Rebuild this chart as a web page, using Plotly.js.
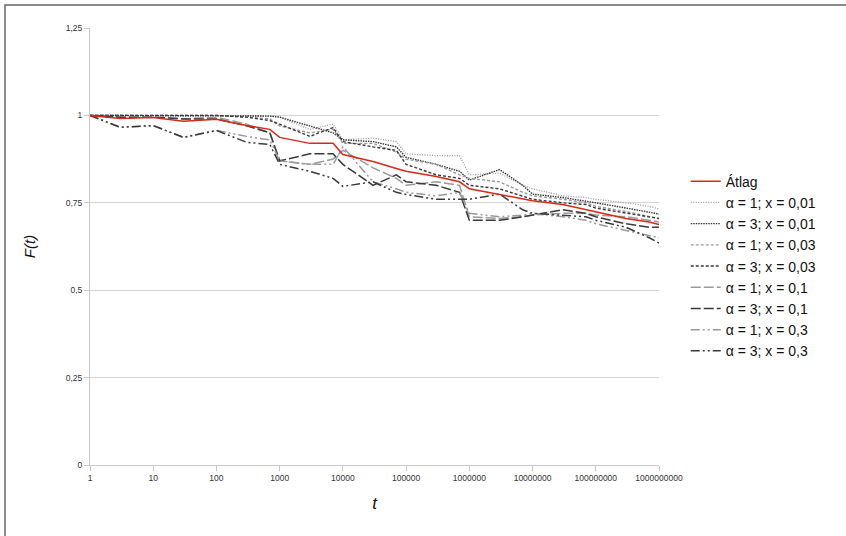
<!DOCTYPE html>
<html>
<head>
<meta charset="utf-8">
<script src="https://cdn.plot.ly/plotly-3.0.1.min.js"></script>
<style>html,body{margin:0;padding:0;background:#fff;}#chart{width:846px;height:536px;}</style>
</head>
<body>
<div id="chart"></div>
<script>
const t = [1, 3, 10, 30, 100, 300, 700, 1e3, 3e3, 7e3, 1e4, 3e4, 7e4, 1e5, 3e5, 7e5, 1e6, 3e6, 7e6, 1e7, 3e7, 7e7, 1e8, 3e8, 7e8, 1e9];

const atlag = [1.0, 0.991, 0.994, 0.983, 0.989, 0.971, 0.96, 0.937, 0.92, 0.92, 0.888, 0.868, 0.848, 0.84, 0.825, 0.81, 0.79, 0.774, 0.762, 0.756, 0.745, 0.73, 0.725, 0.705, 0.695, 0.688];
const a1x001 = [1, 1, 1, 1, 1, 1, 0.998, 0.995, 0.96, 0.975, 0.93, 0.935, 0.925, 0.89, 0.885, 0.885, 0.83, 0.835, 0.8, 0.79, 0.77, 0.765, 0.76, 0.75, 0.74, 0.732];
const a3x001 = [1, 1, 1, 1, 1, 1, 0.998, 0.995, 0.97, 0.95, 0.93, 0.925, 0.91, 0.88, 0.86, 0.84, 0.815, 0.845, 0.8, 0.775, 0.765, 0.755, 0.75, 0.735, 0.722, 0.718];
const a1x003 = [1, 1, 1, 1, 1, 0.995, 0.99, 0.97, 0.95, 0.96, 0.92, 0.92, 0.895, 0.875, 0.86, 0.83, 0.82, 0.81, 0.78, 0.77, 0.76, 0.75, 0.74, 0.725, 0.712, 0.705];
const a3x003 = [1, 1, 1, 1, 1, 0.995, 0.985, 0.975, 0.94, 0.965, 0.925, 0.91, 0.9, 0.86, 0.83, 0.82, 0.8, 0.79, 0.77, 0.76, 0.75, 0.745, 0.735, 0.72, 0.71, 0.705];
const a1x01 = [1, 0.995, 0.995, 0.99, 0.995, 0.975, 0.95, 0.87, 0.86, 0.875, 0.9, 0.85, 0.82, 0.8, 0.81, 0.8, 0.71, 0.705, 0.71, 0.715, 0.72, 0.72, 0.715, 0.71, 0.7, 0.695];
const a3x01 = [1, 0.995, 0.995, 0.99, 0.99, 0.97, 0.95, 0.87, 0.89, 0.89, 0.86, 0.8, 0.83, 0.81, 0.8, 0.78, 0.70, 0.70, 0.71, 0.715, 0.73, 0.72, 0.71, 0.69, 0.68, 0.68];
const a1x03 = [1, 0.966, 0.971, 0.937, 0.957, 0.94, 0.93, 0.87, 0.86, 0.86, 0.91, 0.81, 0.79, 0.78, 0.77, 0.78, 0.72, 0.71, 0.715, 0.72, 0.71, 0.7, 0.69, 0.67, 0.655, 0.65];
const a3x03 = [1, 0.966, 0.971, 0.937, 0.957, 0.923, 0.917, 0.86, 0.84, 0.82, 0.797, 0.81, 0.78, 0.774, 0.76, 0.76, 0.76, 0.775, 0.73, 0.72, 0.715, 0.71, 0.70, 0.68, 0.65, 0.635];

const seriesNames = ["Átlag", "α = 1; x = 0,01", "α = 3; x = 0,01", "α = 1; x = 0,03", "α = 3; x = 0,03", "α = 1; x = 0,1", "α = 3; x = 0,1", "α = 1; x = 0,3", "α = 3; x = 0,3"];
const seriesData = [atlag, a1x001, a3x001, a1x003, a3x003, a1x01, a3x01, a1x03, a3x03];

const xTickVals = [1, 10, 100, 1000, 10000, 100000, 1000000, 10000000, 100000000, 1000000000];
const xTickText = ["1", "10", "100", "1000", "10000", "100000", "1000000", "10000000", "100000000", "1000000000"];
const yTickVals = [0, 0.25, 0.5, 0.75, 1, 1.25];
const yTickText = ["0", "0,25", "0,5", "0,75", "1", "1,25"];

const light = "#9a9a9a", dark = "#3a3a3a";
const styles = [
  {color: "#d8281a", width: 1.5, dash: "solid"},
  {color: light, width: 1.3, dash: "1px,1.5px"},
  {color: dark, width: 1.4, dash: "1.5px,1px"},
  {color: light, width: 1.4, dash: "3px,2px"},
  {color: dark, width: 1.4, dash: "3px,2px"},
  {color: light, width: 1.5, dash: "10px,3px"},
  {color: dark, width: 1.5, dash: "10px,3px"},
  {color: light, width: 1.5, dash: "9px,3px,2px,3px,2px,3px"},
  {color: dark, width: 1.5, dash: "9px,3px,2px,3px,2px,3px"}
];

const traces = seriesNames.map((n, i) => ({
  x: t, y: seriesData[i], name: n, type: "scatter", mode: "lines",
  line: styles[i]
}));
const order = [1,2,3,4,5,6,7,8,0];
const data = order.map(i => Object.assign({}, traces[i], {legendrank: i + 1}));

const layout = {
  width: 846, height: 536,
  margin: {l: 90, r: 187, t: 28, b: 71},
  paper_bgcolor: "#fff", plot_bgcolor: "#fff",
  font: {family: "Liberation Sans, Arial, sans-serif", color: "#222"},
  showlegend: true,
  legend: {x: 1.047, y: 0.685, xanchor: "left", yanchor: "top", font: {size: 14, color: "#111"},
           itemwidth: 30, tracegroupgap: 0, bgcolor: "rgba(0,0,0,0)"},
  xaxis: {type: "log", range: [0, 9], tickvals: xTickVals, ticktext: xTickText,
          showgrid: false, showline: true, linecolor: "#c8c8c8", linewidth: 1,
          ticks: "outside", ticklen: 5, tickcolor: "#c8c8c8", tickfont: {size: 8.5, color: "#333"},
          zeroline: false,
          title: {text: "<i>t</i>", font: {size: 17, color: "#111"}, standoff: 14}},
  yaxis: {range: [0, 1.25], tickvals: yTickVals, ticktext: yTickText,
          showgrid: true, gridcolor: "#d6d6d6", gridwidth: 1,
          showline: true, linecolor: "#c8c8c8", linewidth: 1,
          ticks: "outside", ticklen: 5, tickcolor: "#c8c8c8", tickfont: {size: 8.5, color: "#333"},
          zeroline: false,
          title: {text: "<i>F(t)</i>", font: {size: 15, color: "#111"}, standoff: 26}},
  shapes: [
    {type: "rect", xref: "paper", yref: "paper", x0: -0.1494, x1: 2, y0: -0.5, y1: 1.0526,
     line: {color: "#666", width: 1.5}, fillcolor: "rgba(0,0,0,0)", layer: "below"}
  ]
};

Plotly.newPlot("chart", data, layout, {displayModeBar: false, staticPlot: true});
</script>
</body>
</html>
